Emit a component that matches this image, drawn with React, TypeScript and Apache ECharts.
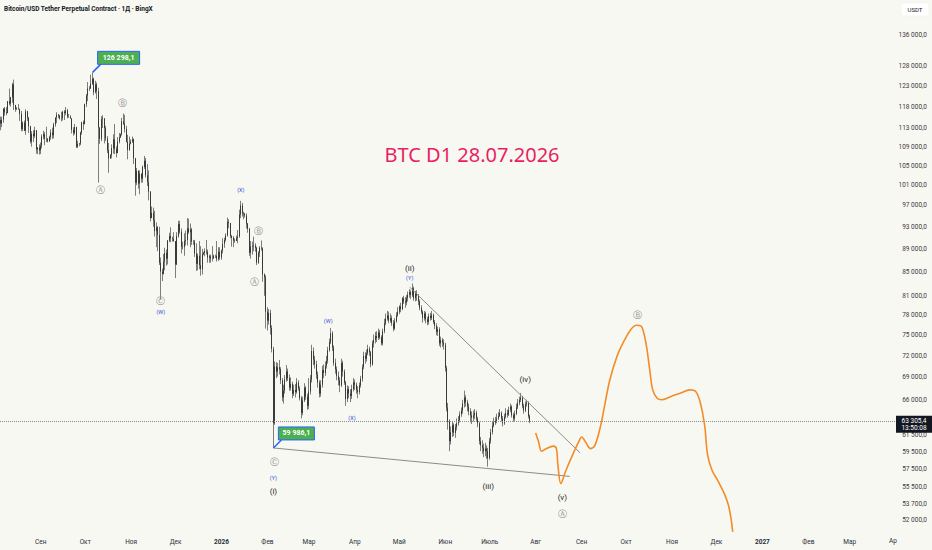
import React, { useEffect, useRef } from 'react';
import * as echarts from 'echarts';

// ---------- axis / meta ----------
const START = Date.UTC(2025, 7, 5); // first candle: 2025-08-05
const DAY_COUNT = 604; // categories through 2027-03-31
const MONTHS_RU = ['Янв', 'Фев', 'Мар', 'Апр', 'Май', 'Июн', 'Июль', 'Авг', 'Сен', 'Окт', 'Ноя', 'Дек'];
const PRICE_TICKS = [136000, 128000, 123000, 118000, 113000, 109000, 105000, 101000, 97000, 93000, 89000, 85000, 81000, 78000, 75000, 72000, 69000, 66000, 61500, 59500, 57500, 55500, 53700, 52000];
const Y_MIN = 50479;
const Y_MAX = 145774;
const LAST_PRICE = 63305.4;
const LAST_TIME = '13:50:08';
const FIRST_OPEN = 114.9;

// ---------- daily candles (thousand USDT) ----------
const CLOSE_2025_08 = [114.1, 115.0, 117.5, 116.7, 116.5, 119.3, 118.7, 120.2, 123.3, 118.4, 117.4, 117.5, 117.4, 116.3, 112.9, 114.3, 112.5, 116.9, 115.4, 113.5, 110.1, 111.8, 111.3, 112.6, 108.4, 108.8, 108.2];
const HIGH_2025_08 = [115.7, 115.7, 117.7, 117.9, 117.9, 119.3, 122.3, 120.3, 123.7, 124.5, 118.4, 117.9, 118.6, 117.6, 117.0, 114.6, 114.8, 117.4, 117.0, 115.6, 113.6, 112.4, 112.6, 113.4, 112.6, 108.9, 109.5];
const LOW_2025_08 = [112.6, 113.3, 114.3, 115.9, 116.0, 116.5, 118.3, 118.0, 118.9, 117.2, 116.8, 117.2, 117.3, 114.7, 112.4, 112.4, 112.4, 111.6, 114.7, 112.0, 109.7, 109.0, 110.0, 110.9, 107.5, 107.4, 107.3];

const CLOSE_2025_09 = [109.2, 111.2, 111.7, 110.7, 110.7, 110.2, 111.1, 112.1, 111.5, 113.9, 115.5, 116.1, 115.9, 115.3, 115.4, 116.8, 116.5, 117.1, 115.7, 115.7, 115.3, 112.7, 112.0, 113.3, 109.0, 109.6, 109.7, 112.1, 114.4, 114.0];
const HIGH_2025_09 = [109.9, 111.7, 112.5, 112.2, 113.4, 110.9, 111.4, 112.8, 113.2, 114.3, 115.5, 116.7, 116.3, 116.1, 116.8, 117.0, 117.2, 117.9, 117.5, 116.3, 116.0, 115.3, 113.3, 114.0, 113.4, 110.3, 109.8, 112.3, 114.5, 114.8];
const LOW_2025_09 = [107.4, 108.6, 110.6, 109.3, 110.0, 109.9, 110.0, 110.5, 110.7, 110.8, 113.4, 114.2, 115.3, 115.0, 114.6, 114.8, 114.9, 116.0, 115.3, 115.4, 115.2, 111.9, 111.4, 111.6, 108.7, 108.7, 109.1, 109.3, 111.6, 112.7];

const CLOSE_2025_10 = [118.6, 120.6, 122.3, 122.4, 123.5, 124.7, 121.4, 123.3, 121.7, 113.2, 110.7, 115.1, 115.3, 113.1, 110.8, 108.2, 106.5, 107.2, 108.7, 110.6, 108.5, 107.6, 110.1, 111.0, 111.7, 114.6, 114.1, 112.9, 110.0, 108.3, 109.6];
const HIGH_2025_10 = [118.7, 121.0, 123.9, 122.9, 125.7, 126.2981, 125.0, 124.2, 123.8, 122.5, 113.3, 115.8, 116.0, 115.3, 113.6, 111.3, 109.8, 107.4, 109.5, 111.7, 114.0, 109.1, 111.1, 112.0, 111.9, 115.4, 116.4, 116.1, 113.6, 111.6, 111.2];
const LOW_2025_10 = [113.9, 117.9, 119.3, 121.7, 122.2, 123.2, 120.7, 121.1, 119.8, 101.5, 109.6, 110.2, 113.1, 109.7, 110.2, 107.6, 103.5, 106.4, 106.5, 107.5, 107.4, 106.7, 107.6, 109.7, 110.9, 111.4, 113.8, 112.1, 109.9, 106.3, 108.1];

const CLOSE_2025_11 = [110.1, 110.6, 106.5, 101.5, 103.9, 101.3, 103.3, 102.3, 104.7, 106.0, 103.0, 101.6, 99.7, 94.6, 95.6, 94.2, 92.2, 92.9, 91.5, 86.6, 85.1, 84.7, 86.8, 88.3, 87.3, 90.5, 91.3, 90.9, 90.8, 90.4];
const HIGH_2025_11 = [110.6, 111.2, 110.8, 106.6, 104.5, 104.0, 104.0, 103.4, 105.0, 107.0, 106.6, 105.3, 104.0, 99.8, 96.8, 96.6, 96.0, 93.8, 93.1, 93.0, 87.5, 85.6, 88.1, 89.2, 88.9, 90.6, 91.9, 92.9, 91.2, 92.0];
const LOW_2025_11 = [109.5, 109.8, 105.3, 98.9, 101.0, 100.3, 99.2, 101.5, 101.5, 104.3, 102.5, 100.8, 98.0, 94.0, 94.6, 93.0, 91.2, 89.3, 88.6, 86.2, 80.5, 83.5, 84.6, 85.3, 86.1, 86.3, 90.2, 90.2, 90.3, 90.3];

const CLOSE_2025_12 = [86.3, 91.3, 93.5, 92.1, 89.4, 89.3, 90.4, 90.6, 92.7, 92.0, 92.5, 90.3, 90.3, 88.2, 86.4, 87.8, 86.2, 85.5, 88.1, 88.3, 88.6, 88.5, 87.5, 87.7, 87.3, 87.3, 87.8, 87.8, 87.2, 88.5, 87.5];
const HIGH_2025_12 = [90.4, 92.0, 94.1, 94.1, 92.7, 90.3, 91.8, 92.3, 94.6, 94.5, 93.6, 92.8, 90.6, 90.6, 90.0, 88.2, 90.4, 89.5, 89.0, 88.5, 89.1, 90.6, 88.9, 88.0, 88.0, 89.5, 88.0, 88.0, 90.4, 89.3, 89.3];
const LOW_2025_12 = [84.0, 86.2, 91.0, 91.7, 88.2, 88.9, 87.8, 89.6, 89.6, 91.7, 89.3, 89.7, 89.7, 87.6, 85.2, 85.3, 85.5, 84.4, 84.6, 87.9, 87.7, 88.0, 86.6, 86.6, 86.6, 86.8, 87.3, 87.4, 86.8, 86.9, 87.1];

const CLOSE_2026_01 = [88.7, 89.9, 90.6, 91.4, 93.9, 93.7, 91.3, 91.0, 90.5, 90.4, 90.9, 91.2, 95.3, 97.0, 95.5, 95.4, 95.1, 93.6, 92.6, 88.3, 89.4, 89.5, 89.6, 89.2, 86.6, 88.3, 89.2, 89.1, 84.6, 84.1, 78.6];
const HIGH_2026_01 = [88.9, 90.9, 91.0, 91.8, 94.7, 94.4, 93.7, 91.5, 91.3, 90.9, 91.4, 92.4, 96.2, 97.9, 97.5, 95.8, 95.6, 95.5, 93.7, 92.8, 90.4, 90.3, 91.2, 90.0, 89.4, 88.6, 89.5, 90.5, 89.3, 84.8, 84.5];
const LOW_2026_01 = [87.1, 88.2, 89.2, 90.3, 91.2, 92.7, 90.9, 89.4, 89.3, 90.1, 90.4, 90.0, 91.0, 94.6, 94.9, 94.4, 94.7, 92.7, 91.9, 87.8, 87.3, 88.0, 88.6, 88.5, 86.2, 86.4, 87.6, 88.7, 83.4, 81.1, 76.0];

const CLOSE_2026_02 = [77.2, 78.4, 76.1, 73.0, 63.0, 70.5, 69.8, 70.4, 70.1, 68.6, 66.3, 67.2, 68.7, 69.8, 68.9, 67.6, 68.1, 66.8, 67.3, 67.0, 68.3, 67.5, 66.2, 64.3, 65.9, 67.6, 66.4, 65.2];
const HIGH_2026_02 = [79.3, 79.0, 78.9, 76.5, 73.3, 71.2, 71.1, 71.0, 71.4, 70.4, 68.9, 68.0, 69.3, 70.7, 70.2, 69.4, 69.0, 68.4, 68.0, 68.1, 68.9, 68.6, 67.8, 66.5, 66.4, 68.2, 67.8, 66.8];
const LOW_2026_02 = [75.7, 76.6, 75.1, 72.5, 59.9861, 62.8, 68.9, 69.1, 69.4, 68.1, 65.8, 65.5, 66.8, 68.4, 68.5, 67.2, 67.2, 66.2, 66.5, 66.3, 66.8, 67.2, 65.9, 63.6, 64.0, 65.7, 66.0, 64.7];

const CLOSE_2026_03 = [67.1, 68.7, 72.7, 71.5, 70.8, 69.4, 68.3, 66.8, 68.0, 70.0, 69.6, 70.6, 71.3, 72.8, 74.0, 75.3, 73.2, 71.0, 70.1, 69.2, 68.6, 67.9, 71.0, 69.8, 68.3, 66.1, 67.4, 66.8, 66.5, 67.4, 68.3];
const HIGH_2026_03 = [68.9, 69.3, 73.6, 73.2, 72.0, 71.3, 69.8, 68.6, 68.6, 70.6, 70.8, 71.2, 72.0, 73.3, 74.5, 76.1, 75.6, 73.5, 71.6, 70.5, 69.8, 69.0, 71.6, 71.3, 70.1, 68.5, 67.9, 67.8, 67.4, 68.0, 68.9];
const LOW_2026_03 = [64.8, 66.7, 68.3, 70.7, 70.2, 68.8, 67.6, 66.3, 66.4, 67.6, 68.9, 69.2, 70.2, 70.9, 72.6, 73.7, 72.7, 70.6, 69.5, 68.6, 67.9, 67.0, 67.7, 69.1, 68.0, 65.2, 65.7, 66.2, 65.7, 66.1, 67.1];

const CLOSE_2026_04 = [68.0, 67.3, 67.0, 67.9, 68.8, 70.4, 72.0, 71.6, 72.4, 73.0, 72.5, 70.8, 73.8, 74.3, 74.9, 74.6, 75.4, 74.7, 73.8, 75.6, 76.8, 77.5, 78.0, 77.2, 77.6, 76.8, 76.0, 77.1, 78.0, 78.6];
const HIGH_2026_04 = [68.7, 68.3, 67.8, 68.3, 69.2, 70.8, 72.6, 72.5, 72.9, 73.6, 73.3, 72.7, 74.2, 75.1, 75.5, 75.6, 76.0, 75.8, 75.0, 76.0, 77.5, 78.3, 78.7, 78.6, 78.3, 78.0, 77.3, 77.6, 78.5, 79.3];
const LOW_2026_04 = [67.3, 66.8, 66.2, 66.7, 67.6, 68.4, 70.1, 70.9, 71.2, 72.1, 72.0, 70.4, 70.6, 73.2, 73.8, 74.0, 74.3, 74.4, 73.5, 73.5, 75.3, 76.5, 77.2, 76.8, 76.9, 76.4, 75.6, 75.8, 76.9, 77.8];

const CLOSE_2026_05 = [79.4, 79.0, 80.7, 80.2, 80.0, 80.7, 81.3, 81.7, 81.2, 82.3, 80.7, 81.5, 81.1, 80.2, 79.2, 78.6, 77.6, 78.3, 77.4, 77.0, 77.9, 77.6, 78.1, 77.0, 76.4, 75.5, 75.9, 73.8, 74.3, 73.9, 73.6];
const HIGH_2026_05 = [79.6, 80.0, 80.9, 81.1, 80.9, 81.2, 81.8, 82.2, 82.0, 83.1, 82.6, 81.9, 82.0, 81.4, 80.5, 79.6, 78.8, 78.7, 78.6, 77.8, 78.3, 78.4, 78.7, 78.3, 77.3, 76.8, 76.3, 76.2, 74.8, 74.6, 74.4];
const LOW_2026_05 = [78.2, 78.5, 78.8, 79.8, 79.2, 79.6, 80.2, 80.8, 80.6, 80.9, 80.3, 80.2, 80.3, 79.6, 78.8, 78.2, 76.9, 77.2, 76.8, 76.5, 76.6, 77.2, 77.3, 76.7, 75.9, 75.0, 74.9, 73.4, 73.2, 73.3, 72.9];

const CLOSE_2026_06 = [70.3, 65.0, 63.2, 60.8, 61.9, 62.8, 61.8, 62.5, 63.0, 63.4, 64.1, 64.6, 65.5, 66.3, 65.7, 65.1, 64.5, 64.0, 63.7, 64.0, 64.3, 63.6, 63.0, 60.8, 60.3, 60.0, 59.6, 59.9, 59.6, 58.8];
const HIGH_2026_06 = [73.9, 70.6, 65.6, 63.5, 62.6, 63.3, 63.0, 62.9, 63.6, 63.9, 64.5, 65.0, 66.0, 67.2, 66.6, 66.0, 65.5, 64.9, 64.5, 64.6, 64.8, 64.6, 63.8, 63.2, 61.3, 60.9, 60.5, 60.6, 60.3, 60.0];
const LOW_2026_06 = [69.8, 64.5, 62.2, 59.6, 60.4, 61.3, 61.4, 61.2, 62.1, 62.7, 63.1, 63.8, 64.2, 65.0, 65.1, 64.5, 64.0, 63.1, 62.9, 63.2, 63.5, 63.2, 62.5, 60.4, 59.6, 59.3, 58.9, 59.0, 58.7, 57.8];

const CLOSE_2026_07 = [60.8, 61.9, 62.7, 63.1, 63.3, 63.6, 63.9, 64.3, 63.6, 63.0, 63.8, 64.3, 64.1, 64.7, 65.1, 64.0, 63.6, 64.2, 65.0, 65.6, 66.0, 66.3, 65.2, 64.6, 65.4, 65.6, 63.9, 63.3054];
const HIGH_2026_07 = [61.2, 62.3, 63.2, 63.7, 63.8, 64.2, 64.4, 64.8, 64.5, 63.9, 64.2, 64.9, 64.7, 65.1, 65.5, 65.3, 64.3, 64.6, 65.5, 66.1, 66.4, 66.9, 66.5, 65.5, 65.8, 66.0, 65.8, 64.1];
const LOW_2026_07 = [58.6, 60.5, 61.6, 62.5, 62.8, 63.0, 63.4, 63.8, 63.2, 62.6, 62.8, 63.6, 63.7, 63.9, 64.4, 63.7, 63.2, 63.3, 64.0, 64.8, 65.3, 65.7, 64.9, 64.2, 64.4, 65.1, 63.6, 63.0];

// ---------- orange projection (thousand USDT) ----------
const PROJ_DATES = ['2026-08-01', '2026-08-03', '2026-08-05', '2026-08-08', '2026-08-13', '2026-08-15', '2026-08-16', '2026-08-18', '2026-08-21', '2026-08-26', '2026-08-30', '2026-09-01', '2026-09-04', '2026-09-07', '2026-09-10', '2026-09-14', '2026-09-16', '2026-09-20', '2026-09-25', '2026-09-30', '2026-10-04', '2026-10-08', '2026-10-11', '2026-10-13', '2026-10-15', '2026-10-17', '2026-10-19', '2026-10-22', '2026-10-25', '2026-10-31', '2026-11-07', '2026-11-13', '2026-11-17', '2026-11-20', '2026-11-23', '2026-11-25', '2026-11-28', '2026-12-02', '2026-12-06', '2026-12-09', '2026-12-11', '2026-12-12'];
const PROJ_PRICES = [61.8, 60.7, 59.6, 59.9, 60.2, 59.9, 58.0, 55.9, 57.2, 59.2, 60.7, 61.3, 60.6, 59.9, 60.3, 62.8, 64.7, 68.6, 72.0, 74.3, 75.8, 76.5, 76.4, 75.3, 73.1, 70.0, 67.3, 66.2, 66.0, 66.4, 66.9, 67.3, 67.1, 65.7, 62.8, 59.2, 57.4, 56.2, 54.9, 53.6, 52.0, 50.8];

// ---------- trend lines ----------
const UPPER_LINE_DATES = ['2026-05-08', '2026-08-31'];
const UPPER_LINE_PRICES = [82.5, 59.4];
const LOWER_LINE_DATES = ['2026-02-05', '2026-08-24'];
const LOWER_LINE_PRICES = [59.986, 56.7];

// ---------- wave labels ----------
const CIRCLED_TEXT = ['Ⓐ', 'Ⓑ', 'Ⓒ', 'Ⓐ', 'Ⓑ', 'Ⓒ', 'Ⓐ', 'Ⓑ'];
const CIRCLED_DATES = ['2025-10-11', '2025-10-26', '2025-11-21', '2026-01-23', '2026-01-26', '2026-02-06', '2026-08-19', '2026-10-09'];
const CIRCLED_PRICES = [100.0, 118.9, 80.3, 83.3, 92.3, 58.3, 52.6, 78.0];

const BLUE_TEXT = ['(W)', '(X)', '(Y)', '(W)', '(X)', '(Y)'];
const BLUE_DATES = ['2025-11-21', '2026-01-14', '2026-02-05', '2026-03-14', '2026-03-30', '2026-05-08'];
const BLUE_PRICES = [78.6, 100.0, 56.5, 77.2, 63.6, 84.0];

const BLACK_TEXT = ['(i)', '(ii)', '(iii)', '(iv)', '(v)'];
const BLACK_DATES = ['2026-02-05', '2026-05-08', '2026-06-30', '2026-07-25', '2026-08-19'];
const BLACK_PRICES = [55.0, 85.6, 55.6, 68.7, 54.4];

// ---------- price callouts ----------
const CALLOUT_DATES = ['2025-10-06', '2026-02-05'];
const CALLOUT_PRICES = [126298.1, 59986.1];
const CALLOUT_WIDTHS = [42, 36];

const BG = '#f8f8f3';
const K = 1000;

const idxOf = (s: string) => Math.round((Date.parse(s + 'T00:00:00Z') - START) / 86400000);

function fmtPrice(v: number) {
  const [i, d] = v.toFixed(1).split('.');
  return i.replace(/\B(?=(\d{3})+(?!\d))/g, ' ') + ',' + d;
}

function buildCategories() {
  const out: string[] = [];
  for (let i = 0; i < DAY_COUNT; i++) {
    out.push(new Date(START + i * 86400000).toISOString().slice(0, 10));
  }
  return out;
}

function buildCandles() {
  const closes = [...CLOSE_2025_08, ...CLOSE_2025_09, ...CLOSE_2025_10, ...CLOSE_2025_11, ...CLOSE_2025_12, ...CLOSE_2026_01, ...CLOSE_2026_02, ...CLOSE_2026_03, ...CLOSE_2026_04, ...CLOSE_2026_05, ...CLOSE_2026_06, ...CLOSE_2026_07].map((v) => v * K);
  const highs = [...HIGH_2025_08, ...HIGH_2025_09, ...HIGH_2025_10, ...HIGH_2025_11, ...HIGH_2025_12, ...HIGH_2026_01, ...HIGH_2026_02, ...HIGH_2026_03, ...HIGH_2026_04, ...HIGH_2026_05, ...HIGH_2026_06, ...HIGH_2026_07].map((v) => v * K);
  const lows = [...LOW_2025_08, ...LOW_2025_09, ...LOW_2025_10, ...LOW_2025_11, ...LOW_2025_12, ...LOW_2026_01, ...LOW_2026_02, ...LOW_2026_03, ...LOW_2026_04, ...LOW_2026_05, ...LOW_2026_06, ...LOW_2026_07].map((v) => v * K);
  const full: number[][] = [];
  const body: number[][] = [];
  closes.forEach((c, i) => {
    const o = i === 0 ? FIRST_OPEN * K : closes[i - 1];
    const h = Math.max(highs[i], o, c);
    const l = Math.min(lows[i], o, c);
    full.push([o, c, l, h]);
    body.push([o, c, Math.min(o, c), Math.max(o, c)]);
  });
  return { full, body };
}

function pairs(dates: string[], prices: number[]) {
  return dates.map((d, i) => [idxOf(d), prices[i] * K]);
}

export default function App() {
  const ref = useRef<HTMLDivElement>(null);

  useEffect(() => {
    if (!ref.current) return;
    const chart = echarts.init(ref.current, null, { renderer: 'svg' });
    const cats = buildCategories();
    const { full, body } = buildCandles();

    chart.setOption({
      animation: false,
      backgroundColor: BG,
      grid: { left: 0, right: 37, top: 0, bottom: 15, containLabel: false },
      xAxis: {
        type: 'category',
        data: cats,
        boundaryGap: true,
        axisLine: { show: false },
        axisTick: { show: false },
        splitLine: { show: false },
        axisLabel: {
          interval: (_i: number, v: string) => v.endsWith('-01'),
          margin: 3,
          color: '#2a2e39',
          fontSize: 6.5,
          fontFamily: 'Roboto',
          formatter: (v: string) => {
            const m = Number(v.slice(5, 7));
            return m === 1 ? '{y|' + v.slice(0, 4) + '}' : MONTHS_RU[m - 1];
          },
          rich: { y: { fontWeight: 'bold', fontSize: 6.5, fontFamily: 'Roboto', color: '#2a2e39' } },
        },
      },
      yAxis: {
        type: 'log',
        logBase: 10,
        min: Y_MIN,
        max: Y_MAX,
        axisLine: { show: false },
        axisTick: { show: false },
        axisLabel: { show: false },
        splitLine: { show: false },
      },
      series: [
        {
          type: 'candlestick',
          z: 2,
          barWidth: 0.2,
          data: full,
          itemStyle: {
            color: '#7d7d7d', color0: '#7d7d7d', borderColor: '#7d7d7d', borderColor0: '#7d7d7d', borderColorDoji: '#7d7d7d', borderWidth: 1,
          },
          markLine: {
            silent: true,
            symbol: 'none',
            label: { show: false },
            lineStyle: { color: '#8a8d96', type: 'dotted', width: 1 },
            data: [{ yAxis: LAST_PRICE }],
          },
        },
        {
          type: 'candlestick',
          z: 3,
          barWidth: 1,
          data: body,
          itemStyle: {
            color: '#0d0d0d', color0: '#0d0d0d', borderColor: '#0d0d0d', borderColor0: '#0d0d0d', borderColorDoji: '#0d0d0d', borderWidth: 0.6,
          },
        },
        {
          type: 'line', z: 4, symbol: 'none', silent: true,
          data: pairs(UPPER_LINE_DATES, UPPER_LINE_PRICES),
          lineStyle: { color: '#8a8a8a', width: 1 },
        },
        {
          type: 'line', z: 4, symbol: 'none', silent: true,
          data: pairs(LOWER_LINE_DATES, LOWER_LINE_PRICES),
          lineStyle: { color: '#8a8a8a', width: 1 },
        },
        {
          type: 'line', z: 5, symbol: 'none', silent: true, smooth: 0.35,
          data: pairs(PROJ_DATES, PROJ_PRICES),
          lineStyle: { color: '#f28c28', width: 1.6 },
        },
      ],
    });

    const graphics: any[] = [];
    const toPt = (d: string, p: number) => chart.convertToPixel({ gridIndex: 0 }, [idxOf(d), p]) as number[];
    const addLabels = (texts: string[], dates: string[], prices: number[], fill: string, fontSize: number, fontFamily: string) => {
      texts.forEach((t, i) => {
        const [x, y] = toPt(dates[i], prices[i] * K);
        graphics.push({ type: 'text', z: 90, x, y, style: { text: t, fill, fontSize, fontFamily, align: 'center', verticalAlign: 'middle' } });
      });
    };
    addLabels(CIRCLED_TEXT, CIRCLED_DATES, CIRCLED_PRICES, '#8f8f8f', 9, 'DejaVu Sans');
    addLabels(BLUE_TEXT, BLUE_DATES, BLUE_PRICES, '#2f4fd8', 5.5, 'Roboto');
    addLabels(BLACK_TEXT, BLACK_DATES, BLACK_PRICES, '#222222', 8, 'Roboto');

    // price scale labels
    PRICE_TICKS.forEach((p) => {
      const y = chart.convertToPixel({ yAxisIndex: 0 }, p) as number;
      graphics.push({
        type: 'text', x: 927, y, z: 100,
        style: { text: fmtPrice(p), fill: '#3a3a3a', fontSize: 6.5, fontFamily: 'Roboto', align: 'right', verticalAlign: 'middle' },
      });
    });
    // callouts
    CALLOUT_DATES.forEach((d, i) => {
      const [x, y] = toPt(d, CALLOUT_PRICES[i]);
      const w = CALLOUT_WIDTHS[i];
      graphics.push({ type: 'line', z: 100, shape: { x1: x, y1: y, x2: x + 8, y2: y - 8 }, style: { stroke: '#2962ff', lineWidth: 1.5 } });
      graphics.push({ type: 'rect', z: 101, shape: { x: x + 5, y: y - 21, width: w, height: 13 }, style: { fill: '#4caf50', stroke: '#2962ff', lineWidth: 1 } });
      graphics.push({
        type: 'text', z: 102, x: x + 5 + w / 2, y: y - 14.5,
        style: { text: fmtPrice(CALLOUT_PRICES[i]), fill: '#ffffff', fontSize: 7, fontWeight: 'bold', fontFamily: 'Roboto', align: 'center', verticalAlign: 'middle' },
      });
    });
    // last price tag
    const yp = chart.convertToPixel({ yAxisIndex: 0 }, LAST_PRICE) as number;
    graphics.push({ type: 'rect', z: 103, shape: { x: 896, y: yp - 5, width: 36, height: 17 }, style: { fill: '#131722' } });
    graphics.push({ type: 'text', z: 104, x: 914, y: yp + 0.5, style: { text: fmtPrice(LAST_PRICE), fill: '#ffffff', fontSize: 6.5, fontFamily: 'Roboto', align: 'center', verticalAlign: 'middle' } });
    graphics.push({ type: 'text', z: 104, x: 914, y: yp + 7.5, style: { text: LAST_TIME, fill: '#ffffff', fontSize: 6.5, fontFamily: 'Roboto', align: 'center', verticalAlign: 'middle' } });
    // header, currency box, title, clipped month
    graphics.push({ type: 'text', z: 100, x: 4, y: 9, style: { text: 'Bitcoin/USD Tether Perpetual Contract · 1Д · BingX', fill: '#131722', fontSize: 6.5, fontWeight: 'bold', fontFamily: 'Roboto', align: 'left', verticalAlign: 'middle' } });
    graphics.push({ type: 'rect', z: 100, shape: { x: 901, y: 3, width: 28, height: 13, r: 2 }, style: { fill: '#ffffff', stroke: '#ececec', lineWidth: 0.5 } });
    graphics.push({ type: 'text', z: 101, x: 915, y: 9.5, style: { text: 'USDT', fill: '#131722', fontSize: 6, fontFamily: 'Roboto', align: 'center', verticalAlign: 'middle' } });
    graphics.push({ type: 'text', z: 100, x: 472, y: 154, style: { text: 'BTC D1 28.07.2026', fill: '#e91e63', fontSize: 20, fontFamily: 'Noto Sans', align: 'center', verticalAlign: 'middle' } });
    graphics.push({ type: 'text', z: 100, x: 889, y: 541, style: { text: 'Ар', fill: '#2a2e39', fontSize: 6.5, fontFamily: 'Roboto', align: 'left', verticalAlign: 'middle' } });

    chart.setOption({ graphic: graphics });
    return () => chart.dispose();
  }, []);

  return (
    <div
      ref={ref}
      style={{ position: 'fixed', left: 0, top: 0, width: 932, height: 550, background: BG }}
    />
  );
}
